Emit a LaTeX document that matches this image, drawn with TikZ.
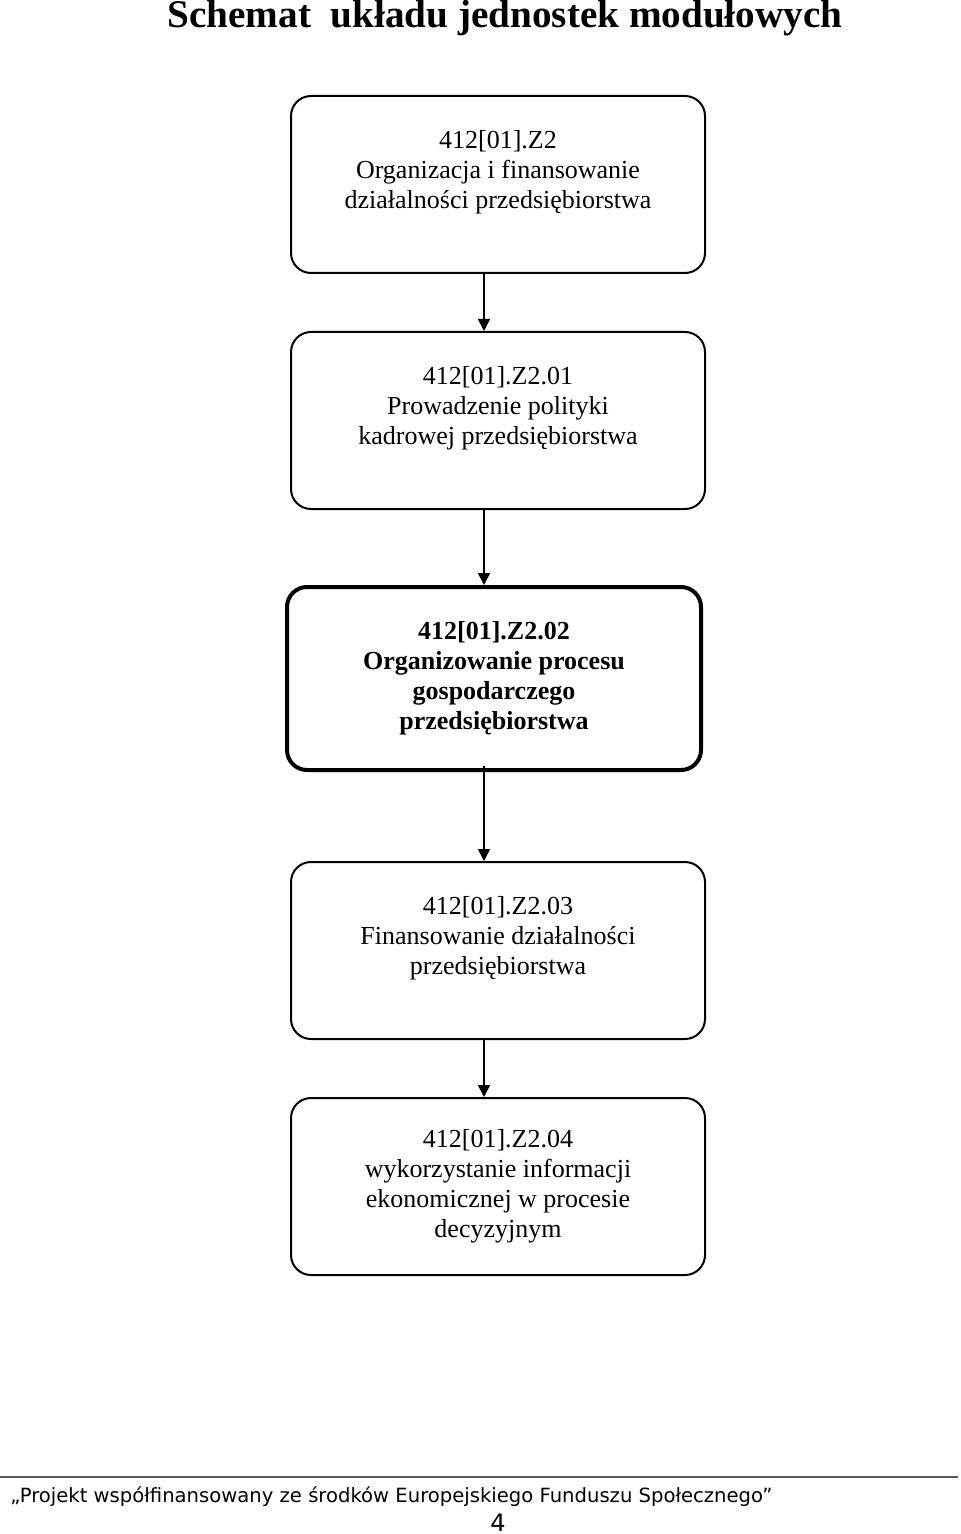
\documentclass[tikz,border=0pt]{standalone}
\usepackage{fontspec}
\setmainfont{Liberation Serif}
\newfontfamily\footfont{DejaVu Sans}
\usetikzlibrary{arrows.meta,calc,positioning}
\tikzset{
  modbox/.style  = {draw, line width=1pt, rounded corners=10pt, minimum width=207pt,
                    minimum height=88.5pt, align=center, font=\fontsize{13}{15}\selectfont},
  mainbox/.style = {modbox, line width=2pt, minimum height=91.5pt,
                    font=\fontsize{13}{15}\selectfont\bfseries},
  flow/.style    = {-{Triangle[length=6pt,width=6pt]}, line width=0.8pt},
  rule/.style    = {line width=1pt, black!65},
}
\begin{document}
\begin{tikzpicture}[x=0.5pt,y=-0.5pt]
  \useasboundingbox (0,0) rectangle (960,1534);
  % title
  \node[font=\fontsize{19.6}{24}\selectfont\bfseries, anchor=base] (title) at (505,28)
    {Schemat\ \ układu jednostek modułowych};
  % module units
  \node[modbox] (m1) at (498,184.5)
    {412[01].Z2\\Organizacja i finansowanie\\działalności przedsiębiorstwa\\[-4pt]\strut};
  \node[modbox] (m2) at (498,420.5)
    {412[01].Z2.01\\Prowadzenie polityki\\kadrowej przedsiębiorstwa\\[-4pt]\strut};
  \node[mainbox] (m3) at (494,678.5)
    {412[01].Z2.02\\Organizowanie procesu\\gospodarczego\\przedsiębiorstwa};
  \node[modbox] (m4) at (498,950.5)
    {412[01].Z2.03\\Finansowanie działalności\\przedsiębiorstwa\\[-4pt]\strut};
  \node[modbox] (m5) at (498,1186.5)
    {412[01].Z2.04\\wykorzystanie informacji\\ekonomicznej w procesie\\decyzyjnym};
  % arrows
  \draw[flow] ([xshift=-7pt]m1.south) -- ([xshift=-7pt]m2.north);
  \draw[flow] ([xshift=-7pt]m2.south) -- ([xshift=-5pt]m3.north);
  \draw[flow] ([xshift=-5pt,yshift=3pt]m3.south) -- ([xshift=-7pt]m4.north);
  \draw[flow] ([xshift=-7pt]m4.south) -- ([xshift=-7pt]m5.north);
  % footer
  \coordinate (fl) at (0,1477);
  \coordinate (fr) at (958,1477);
  \draw[rule] (fl) -- (fr);
  \node[font=\footfont\fontsize{9.8}{11}\selectfont, anchor=west, inner sep=0pt] (foot) at (10,1497)
    {„Projekt współfinansowany ze środków Europejskiego Funduszu Społecznego”};
  \node[font=\footfont\fontsize{12}{14}\selectfont, anchor=base, inner sep=0pt] (page) at (498,1531) {4};
\end{tikzpicture}
\end{document}
